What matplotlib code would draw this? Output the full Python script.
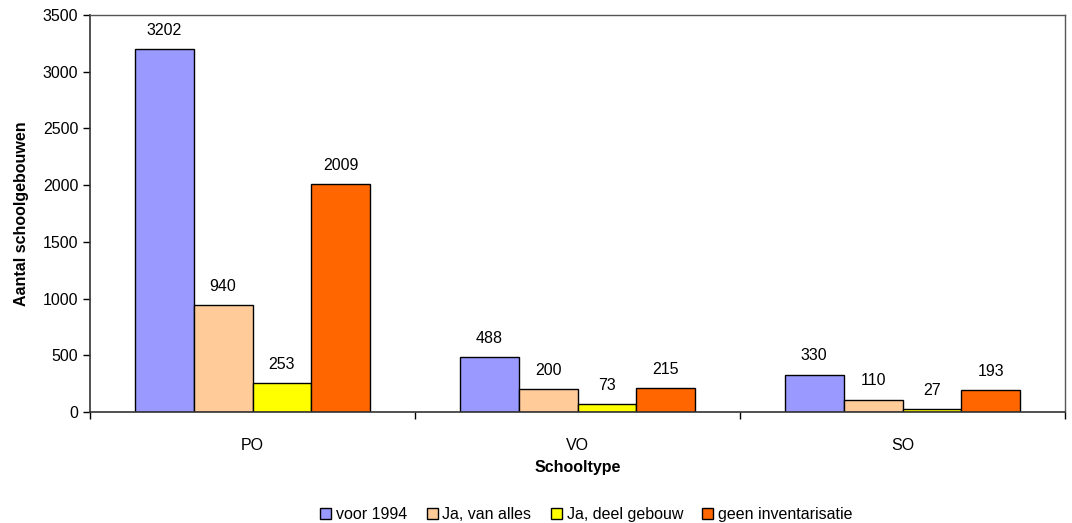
import numpy as np
import matplotlib.pyplot as plt

plt.rcParams['font.family'] = ['Liberation Sans', 'DejaVu Sans']

categories = ['PO', 'VO', 'SO']
series = ['voor 1994', 'Ja, van alles', 'Ja, deel gebouw', 'geen inventarisatie']
values = [
    [3202, 488, 330],
    [940, 200, 110],
    [253, 73, 27],
    [2009, 215, 193],
]
colors = ['#9999FF', '#FFCC99', '#FFFF00', '#FF6600']

fs = 11.5

fig = plt.figure(figsize=(10.72, 5.23), dpi=100)
ax = fig.add_axes([90/1072, 111/523, 975/1072, 397/523])

x = np.arange(len(categories))
bw = 0.1815
for i in range(len(series)):
    pos = x + (i - 1.5) * bw
    bars = ax.bar(pos, values[i], bw, color=colors[i], edgecolor='black',
                  linewidth=1.0, label=series[i])
    for b, v in zip(bars, values[i]):
        ax.annotate(str(v), (b.get_x() + b.get_width() / 2, v),
                    xytext=(0, 8), textcoords='offset points',
                    ha='center', va='bottom', fontsize=fs)

ax.set_xlim(-0.5, len(categories) - 0.5)
ax.set_ylim(0, 3500)
ax.set_yticks(np.arange(0, 3501, 500))
ax.tick_params(axis='y', labelsize=fs, length=5, width=1, direction='out')

ax.set_xticks(np.arange(-0.5, len(categories), 1.0))
ax.set_xticklabels([])
ax.set_xticks(x, minor=True)
ax.set_xticklabels(categories, minor=True, fontsize=fs)
ax.tick_params(axis='x', which='major', length=5, width=1, direction='out')
ax.tick_params(axis='x', which='minor', length=0, pad=19)

for s in ['left', 'bottom']:
    ax.spines[s].set_color('#333333')
    ax.spines[s].set_linewidth(1.2)
for s in ['top', 'right']:
    ax.spines[s].set_color('#555555')
    ax.spines[s].set_linewidth(1.0)

ax.set_ylabel('Aantal schoolgebouwen', fontsize=fs, fontweight='bold', labelpad=10)
ax.set_xlabel('Schooltype', fontsize=fs, fontweight='bold', labelpad=5)

fig.legend(loc='lower center', bbox_to_anchor=(0.547, -0.026), ncol=4,
           frameon=False, fontsize=fs, handlelength=0.7, handleheight=0.7,
           handletextpad=0.3, columnspacing=1.2)

plt.savefig('out.png', dpi=100)
